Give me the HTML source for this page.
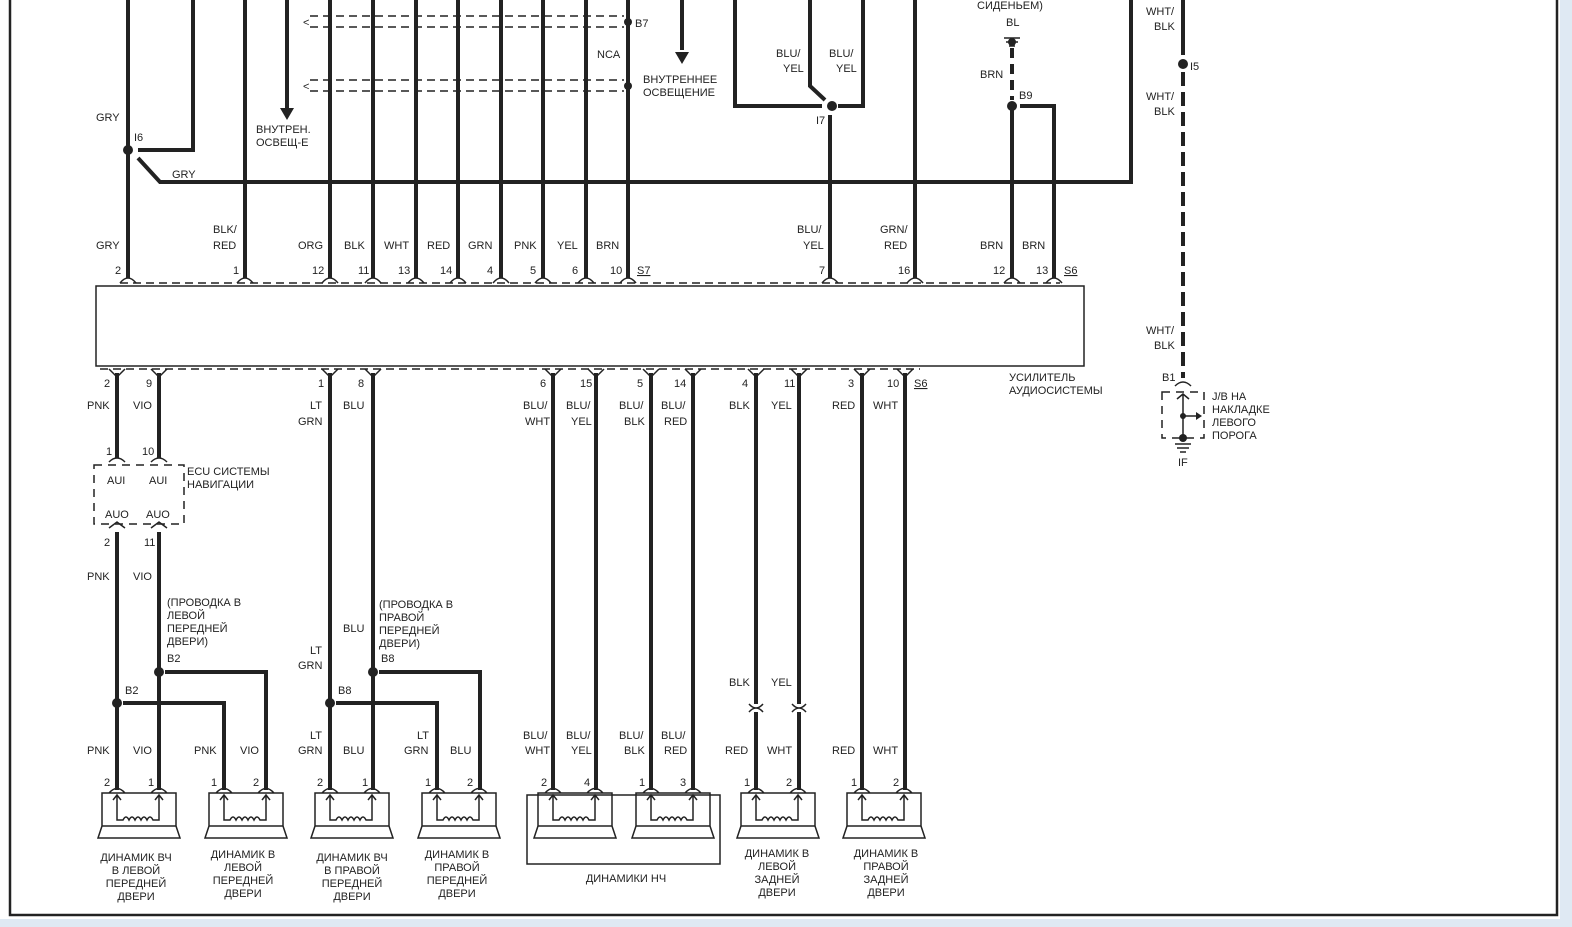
<!DOCTYPE html>
<html><head><meta charset="utf-8"><style>
body{margin:0;background:#fff}
svg{display:block}
text{font-family:"Liberation Sans",sans-serif;font-size:11px;fill:#222}
.w{stroke:#222;stroke-width:4;fill:none}
.t{stroke:#222;stroke-width:1.5;fill:none}
.d{stroke:#222;stroke-width:1.5;fill:none;stroke-dasharray:8 5}
</style></head><body>
<svg width="1572" height="927" viewBox="0 0 1572 927" xmlns="http://www.w3.org/2000/svg">
<rect x="0" y="0" width="1572" height="927" fill="#fff"/>
<path d="M10 0 V915 H1557 V0" stroke="#222" stroke-width="2.5" fill="none"/>
<rect x="0" y="919" width="1572" height="8" fill="#dfe9f3"/>
<rect x="1560" y="0" width="12" height="927" fill="#dfe9f3"/>

<!-- top wires -->
<g class="w">
<path d="M128 0 V278"/>
<path d="M193 0 V150 H138"/>
<path d="M138 158 L160 182 H1131 V0"/>
<path d="M245 0 V278"/>
<path d="M287 0 V108"/>
<path d="M330 0 V278"/><path d="M373 0 V278"/><path d="M416 0 V278"/><path d="M458 0 V278"/>
<path d="M501 0 V278"/><path d="M543 0 V278"/><path d="M586 0 V278"/><path d="M628 0 V278"/>
<path d="M682 0 V50"/>
<path d="M735 0 V106 H822"/>
<path d="M810 0 V86 L825 100"/>
<path d="M838 106 H863 V0"/>
<path d="M830 115 V278"/>
<path d="M915 0 V278"/>
<path d="M1012 110 V278"/>
<path d="M1020 106 H1054 V278"/>
<path d="M1183 0 V55"/>
</g>
<path d="M1012 48 V100" stroke="#222" stroke-width="4" stroke-dasharray="10 6"/>
<path d="M1183 72 V378" stroke="#222" stroke-width="4" stroke-dasharray="14 6"/>
<g fill="#222">
<polygon points="280,108 294,108 287,120"/>
<polygon points="675,52 689,52 682,64"/>
<circle cx="128" cy="150" r="5"/><circle cx="832" cy="106" r="5"/><circle cx="1012" cy="106" r="5"/>
<circle cx="1183" cy="64" r="5"/><circle cx="628" cy="22" r="4"/><circle cx="628" cy="86" r="4"/>
<circle cx="1012" cy="42" r="4"/>
</g>
<path d="M1004 38 H1020 M1006 42 H1018 M1009 46 H1015" class="t"/>
<!-- shielded dashed lines -->
<g class="d"><path d="M310 16 H624"/><path d="M310 27 H624"/><path d="M310 80 H624"/><path d="M310 91 H624"/></g>
<text x="303" y="26">&lt;</text><text x="303" y="90">&lt;</text>

<!-- top labels -->
<text x="96" y="121">GRY</text><text x="134" y="141">I6</text><text x="172" y="178">GRY</text>
<text x="256" y="133">ВНУТРЕН.</text><text x="256" y="146">ОСВЕЩ-Е</text>
<text x="635" y="27">B7</text><text x="597" y="58">NCA</text>
<text x="643" y="83">ВНУТРЕННЕЕ</text><text x="643" y="96">ОСВЕЩЕНИЕ</text>
<text x="776" y="57">BLU/</text><text x="783" y="72">YEL</text>
<text x="829" y="57">BLU/</text><text x="836" y="72">YEL</text>
<text x="816" y="124">I7</text>
<text x="977" y="9">СИДЕНЬЕМ)</text><text x="1006" y="26">BL</text>
<text x="980" y="78">BRN</text><text x="1019" y="99">B9</text>
<text x="1146" y="15">WHT/</text><text x="1154" y="30">BLK</text><text x="1190" y="70">I5</text>
<text x="1146" y="100">WHT/</text><text x="1154" y="115">BLK</text>
<text x="1146" y="334">WHT/</text><text x="1154" y="349">BLK</text>

<text x="96" y="249">GRY</text>
<text x="213" y="233">BLK/</text><text x="213" y="249">RED</text>
<text x="298" y="249">ORG</text><text x="344" y="249">BLK</text><text x="384" y="249">WHT</text>
<text x="427" y="249">RED</text><text x="468" y="249">GRN</text><text x="514" y="249">PNK</text>
<text x="557" y="249">YEL</text><text x="596" y="249">BRN</text>
<text x="797" y="233">BLU/</text><text x="803" y="249">YEL</text>
<text x="880" y="233">GRN/</text><text x="884" y="249">RED</text>
<text x="980" y="249">BRN</text><text x="1022" y="249">BRN</text>

<text x="115" y="274">2</text><text x="233" y="274">1</text><text x="312" y="274">12</text>
<text x="358" y="274">11</text><text x="398" y="274">13</text><text x="440" y="274">14</text>
<text x="487" y="274">4</text><text x="530" y="274">5</text><text x="572" y="274">6</text>
<text x="610" y="274">10</text><text x="637" y="274" text-decoration="underline">S7</text>
<text x="819" y="274">7</text><text x="898" y="274">16</text><text x="993" y="274">12</text>
<text x="1036" y="274">13</text><text x="1064" y="274" text-decoration="underline">S6</text>

<!-- amp -->
<rect x="96" y="286" width="988" height="80" fill="#fff" stroke="#222" stroke-width="1.5"/>
<path d="M120 283 H1060" class="d"/>
<path d="M100 369 H920" class="d"/>
<g class="t">
<path d="M120 283 q8 -10 16 0 M237 283 q8 -10 16 0 M322 283 q8 -10 16 0 M365 283 q8 -10 16 0 M408 283 q8 -10 16 0 M450 283 q8 -10 16 0 M493 283 q8 -10 16 0 M535 283 q8 -10 16 0 M578 283 q8 -10 16 0 M620 283 q8 -10 16 0 M822 283 q8 -10 16 0 M907 283 q8 -10 16 0 M1004 283 q8 -10 16 0 M1046 283 q8 -10 16 0"/>
<path d="M109 369 l8 8 l8 -8 M151 369 l8 8 l8 -8 M322 369 l8 8 l8 -8 M365 369 l8 8 l8 -8 M545 369 l8 8 l8 -8 M588 369 l8 8 l8 -8 M643 369 l8 8 l8 -8 M685 369 l8 8 l8 -8 M748 369 l8 8 l8 -8 M791 369 l8 8 l8 -8 M854 369 l8 8 l8 -8 M897 369 l8 8 l8 -8"/>
</g>
<text x="1009" y="381">УСИЛИТЕЛЬ</text><text x="1009" y="394">АУДИОСИСТЕМЫ</text>

<!-- bottom wires -->
<g class="w">
<path d="M117 373 V458"/><path d="M159 373 V458"/>
<path d="M117 532 V790"/><path d="M159 532 V790"/>
<path d="M165 672 H266 V790"/><path d="M123 703 H224 V790"/>
<path d="M330 373 V790"/><path d="M373 373 V790"/>
<path d="M379 672 H480 V790"/><path d="M336 703 H437 V790"/>
<path d="M553 373 V790"/><path d="M596 373 V790"/><path d="M651 373 V790"/><path d="M693 373 V790"/>
<path d="M756 373 V704"/><path d="M799 373 V704"/><path d="M756 712 V790"/><path d="M799 712 V790"/>
<path d="M862 373 V790"/><path d="M905 373 V790"/>
</g>
<g fill="#222"><circle cx="159" cy="672" r="5"/><circle cx="117" cy="703" r="5"/><circle cx="373" cy="672" r="5"/><circle cx="330" cy="703" r="5"/></g>
<g class="t"><path d="M749 712 q7 -8 14 0 M792 712 q7 -8 14 0 M749 704 q7 8 14 0 M792 704 q7 8 14 0"/>
<path d="M109 462 q8 -8 16 0 M151 462 q8 -8 16 0 M109 528 l8 -6 l8 6 M151 528 l8 -6 l8 6"/></g>
<!-- ECU -->
<path d="M94 465 H184 V524 H94 Z" stroke="#222" stroke-width="1.5" fill="none" stroke-dasharray="8 6"/>
<text x="107" y="484">AUI</text><text x="149" y="484">AUI</text>
<text x="105" y="518">AUO</text><text x="146" y="518">AUO</text>
<text x="187" y="475">ECU СИСТЕМЫ</text><text x="187" y="488">НАВИГАЦИИ</text>

<!-- bottom labels -->
<text x="104" y="387">2</text><text x="146" y="387">9</text><text x="318" y="387">1</text><text x="358" y="387">8</text>
<text x="540" y="387">6</text><text x="580" y="387">15</text><text x="637" y="387">5</text><text x="674" y="387">14</text>
<text x="742" y="387">4</text><text x="784" y="387">11</text><text x="848" y="387">3</text><text x="887" y="387">10</text>
<text x="914" y="387" text-decoration="underline">S6</text>
<text x="87" y="409">PNK</text><text x="133" y="409">VIO</text>
<text x="310" y="409">LT</text><text x="298" y="425">GRN</text><text x="343" y="409">BLU</text>
<text x="523" y="409">BLU/</text><text x="525" y="425">WHT</text><text x="566" y="409">BLU/</text><text x="571" y="425">YEL</text>
<text x="619" y="409">BLU/</text><text x="624" y="425">BLK</text><text x="661" y="409">BLU/</text><text x="664" y="425">RED</text>
<text x="729" y="409">BLK</text><text x="771" y="409">YEL</text><text x="832" y="409">RED</text><text x="873" y="409">WHT</text>
<text x="106" y="455">1</text><text x="142" y="455">10</text>
<text x="104" y="546">2</text><text x="144" y="546">11</text>
<text x="87" y="580">PNK</text><text x="133" y="580">VIO</text>
<text x="167" y="606">(ПРОВОДКА В</text><text x="167" y="619">ЛЕВОЙ</text><text x="167" y="632">ПЕРЕДНЕЙ</text><text x="167" y="645">ДВЕРИ)</text>
<text x="167" y="662">B2</text><text x="125" y="694">B2</text>
<text x="379" y="608">(ПРОВОДКА В</text><text x="379" y="621">ПРАВОЙ</text><text x="379" y="634">ПЕРЕДНЕЙ</text><text x="379" y="647">ДВЕРИ)</text>
<text x="343" y="632">BLU</text><text x="310" y="654">LT</text><text x="298" y="669">GRN</text>
<text x="381" y="662">B8</text><text x="338" y="694">B8</text>
<text x="729" y="686">BLK</text><text x="771" y="686">YEL</text>
<text x="87" y="754">PNK</text><text x="133" y="754">VIO</text><text x="194" y="754">PNK</text><text x="240" y="754">VIO</text>
<text x="310" y="739">LT</text><text x="298" y="754">GRN</text><text x="343" y="754">BLU</text>
<text x="417" y="739">LT</text><text x="404" y="754">GRN</text><text x="450" y="754">BLU</text>
<text x="523" y="739">BLU/</text><text x="525" y="754">WHT</text><text x="566" y="739">BLU/</text><text x="571" y="754">YEL</text>
<text x="619" y="739">BLU/</text><text x="624" y="754">BLK</text><text x="661" y="739">BLU/</text><text x="664" y="754">RED</text>
<text x="725" y="754">RED</text><text x="767" y="754">WHT</text><text x="832" y="754">RED</text><text x="873" y="754">WHT</text>
<text x="104" y="786">2</text><text x="148" y="786">1</text><text x="211" y="786">1</text><text x="253" y="786">2</text>
<text x="317" y="786">2</text><text x="362" y="786">1</text><text x="425" y="786">1</text><text x="467" y="786">2</text>
<text x="541" y="786">2</text><text x="584" y="786">4</text><text x="639" y="786">1</text><text x="680" y="786">3</text>
<text x="744" y="786">1</text><text x="786" y="786">2</text><text x="851" y="786">1</text><text x="893" y="786">2</text>

<!-- speakers -->
<g class="t">
<path id="sp" d="M102 793 H176 V826 H102 Z M102 826 L98 838 H180 L176 826 M109 793 q8 -9 16 0 M151 793 q8 -9 16 0 M117 810 V795 M113 800 L117 795 L121 800 M159 810 V795 M155 800 L159 795 L163 800 M117 810 V820 H123 q3 -6 6 0 q3 -6 6 0 q3 -6 6 0 q3 -6 6 0 q3 -6 6 0 H159 V810"/>
<use href="#sp" x="107"/><use href="#sp" x="213"/><use href="#sp" x="320"/>
<use href="#sp" x="436"/><use href="#sp" x="534"/><use href="#sp" x="639"/><use href="#sp" x="745"/>
<rect x="527" y="795" width="193" height="69"/>
</g>
<g text-anchor="middle">
<text x="136" y="861">ДИНАМИК ВЧ</text><text x="136" y="874">В ЛЕВОЙ</text><text x="136" y="887">ПЕРЕДНЕЙ</text><text x="136" y="900">ДВЕРИ</text>
<text x="243" y="858">ДИНАМИК В</text><text x="243" y="871">ЛЕВОЙ</text><text x="243" y="884">ПЕРЕДНЕЙ</text><text x="243" y="897">ДВЕРИ</text>
<text x="352" y="861">ДИНАМИК ВЧ</text><text x="352" y="874">В ПРАВОЙ</text><text x="352" y="887">ПЕРЕДНЕЙ</text><text x="352" y="900">ДВЕРИ</text>
<text x="457" y="858">ДИНАМИК В</text><text x="457" y="871">ПРАВОЙ</text><text x="457" y="884">ПЕРЕДНЕЙ</text><text x="457" y="897">ДВЕРИ</text>
<text x="626" y="882">ДИНАМИКИ НЧ</text>
<text x="777" y="857">ДИНАМИК В</text><text x="777" y="870">ЛЕВОЙ</text><text x="777" y="883">ЗАДНЕЙ</text><text x="777" y="896">ДВЕРИ</text>
<text x="886" y="857">ДИНАМИК В</text><text x="886" y="870">ПРАВОЙ</text><text x="886" y="883">ЗАДНЕЙ</text><text x="886" y="896">ДВЕРИ</text>
</g>

<!-- J/B -->
<text x="1162" y="381">B1</text>
<path d="M1175 386 q8 -8 16 0" class="t"/>
<path d="M1162 392 H1204 V438 H1162 Z" stroke="#222" stroke-width="1.5" fill="none" stroke-dasharray="8 6"/>
<path d="M1183 394 V436 M1177 399 L1183 394 L1189 399 M1183 416 H1196" class="t" stroke-width="2.5"/>
<polygon points="1196,412 1202,416 1196,420" fill="#222"/>
<circle cx="1183" cy="416" r="3" fill="#222"/><circle cx="1183" cy="438" r="4" fill="#222"/>
<path d="M1175 444 H1191 M1177 448 H1189 M1180 452 H1186" class="t"/>
<text x="1178" y="466">IF</text>
<text x="1212" y="400">J/B НА</text><text x="1212" y="413">НАКЛАДКЕ</text><text x="1212" y="426">ЛЕВОГО</text><text x="1212" y="439">ПОРОГА</text>
</svg>
</body></html>
